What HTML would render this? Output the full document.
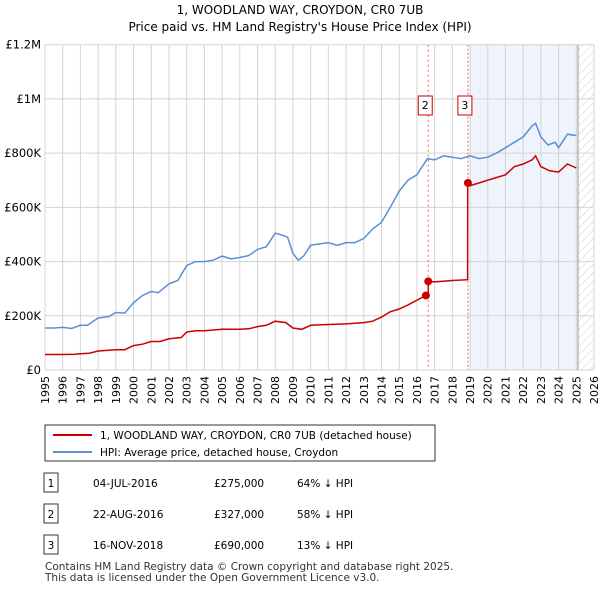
<!DOCTYPE html>
<html><head><meta charset="utf-8"><style>
body{margin:0;background:#fff;font-family:"Liberation Sans","DejaVu Sans",sans-serif;}
svg text{font-family:"DejaVu Sans","Liberation Sans",sans-serif;}
</style></head><body>
<svg id="c" width="600" height="590" xmlns="http://www.w3.org/2000/svg">
<defs><pattern id="hatch" width="6" height="6" patternUnits="userSpaceOnUse" patternTransform="rotate(45)"><line x1="0" y1="0" x2="0" y2="6" stroke="#ccc" stroke-width="1"/></pattern></defs>
<text x="300" y="14" text-anchor="middle" font-size="12">1, WOODLAND WAY, CROYDON, CR0 7UB</text>
<text x="300" y="31" text-anchor="middle" font-size="12">Price paid vs. HM Land Registry's House Price Index (HPI)</text>
<g id="plot"></g>
<g>
<rect x="45" y="425" width="390" height="36" fill="#fff" stroke="#333" stroke-width="1"/>
<line x1="53" y1="435" x2="92" y2="435" stroke="#cc0000" stroke-width="2"/>
<text x="100" y="439" font-size="10.5">1, WOODLAND WAY, CROYDON, CR0 7UB (detached house)</text>
<line x1="53" y1="452" x2="92" y2="452" stroke="#5b8fd4" stroke-width="2"/>
<text x="100" y="456" font-size="10.5">HPI: Average price, detached house, Croydon</text>
</g>
<g id="tbl" font-size="10.5"></g>
<text x="45" y="570" font-size="10.5" fill="#333">Contains HM Land Registry data © Crown copyright and database right 2025.</text>
<text x="45" y="581" font-size="10.5" fill="#333">This data is licensed under the Open Government Licence v3.0.</text>
</svg>
<script>
const hpiYears=[1995,1995.5,1996,1996.5,1997,1997.4,1998,1998.6,1999,1999.5,2000,2000.5,2001,2001.4,2002,2002.5,2003,2003.5,2004,2004.5,2005,2005.5,2006,2006.5,2007,2007.5,2008,2008.5,2008.7,2009,2009.3,2009.6,2010,2010.5,2011,2011.5,2012,2012.5,2013,2013.5,2014,2014.5,2015,2015.5,2016,2016.6,2017,2017.5,2018,2018.5,2019,2019.5,2020,2020.5,2021,2021.5,2022,2022.5,2022.7,2023,2023.4,2023.8,2024,2024.5,2025];
const hpiValues=[155,155,157,153,165,165,192,197,212,210,248,275,290,285,318,330,385,400,400,405,420,410,415,422,445,455,505,495,490,430,405,420,460,465,470,460,470,470,485,520,545,600,660,700,720,780,775,790,785,780,790,780,785,800,820,840,860,900,910,860,830,840,820,870,865];
const ppYears=[1995,1996,1996.7,1997,1997.5,1998,1999,1999.5,2000,2000.5,2001,2001.5,2002,2002.7,2003,2003.5,2004,2005,2006,2006.5,2007,2007.5,2008,2008.6,2009,2009.5,2010,2011,2012,2013,2013.5,2014,2014.5,2015,2015.5,2016.5,2016.64,2016.65,2017,2018,2018.86,2018.87,2019,2019.5,2020,2020.5,2021,2021.5,2022,2022.5,2022.7,2023,2023.5,2024,2024.5,2025];
const ppValues=[57,57,58,60,62,70,75,75,90,95,105,105,115,120,140,145,145,150,150,152,160,165,180,175,155,150,165,168,170,175,180,195,215,225,240,275,275,327,325,330,333,690,680,690,700,710,720,750,760,775,790,750,735,730,760,745];
const saleYears=[2016.51,2016.64,2018.88];
const saleValues=[275,327,690];
const yTicks=[0,200,400,600,800,1000,1200];
const yLabels=["£0","£200K","£400K","£600K","£800K","£1M","£1.2M"];
const xTicks=[1995,1996,1997,1998,1999,2000,2001,2002,2003,2004,2005,2006,2007,2008,2009,2010,2011,2012,2013,2014,2015,2016,2017,2018,2019,2020,2021,2022,2023,2024,2025,2026];
const tblNums=["1","2","3"];
const tblDates=["04-JUL-2016","22-AUG-2016","16-NOV-2018"];
const tblPrices=["£275,000","£327,000","£690,000"];
const tblHpi=["64% ↓ HPI","58% ↓ HPI","13% ↓ HPI"];
const X0=45,X1=594,Y0=370,Y1=44.7;
const xs=y=>X0+(y-1995)/(2026-1995)*(X1-X0);
const ys=v=>Y0-v/1200*(Y0-Y1);
const NS="http://www.w3.org/2000/svg";
const plot=document.getElementById('plot');
function mk(t,a,p){const e=document.createElementNS(NS,t);for(const k in a)e.setAttribute(k,a[k]);(p||plot).appendChild(e);return e;}
let e;
e=mk('rect',{x:xs(2019),y:Y1,width:xs(2025.1)-xs(2019),height:Y0-Y1,fill:'#eef3fc'});


e=mk('rect',{x:xs(2025.1),y:Y1,width:X1-xs(2025.1),height:Y0-Y1,fill:'url(#hatch)'});


xTicks.forEach(t=>{e=mk('line',{x1:xs(t),x2:xs(t),y1:Y1,y2:Y0,stroke:'#d4d4d4'});


e=mk('text',{x:0,y:0,'font-size':11,'text-anchor':'end',transform:`translate(${xs(t)+4},${Y0+6}) rotate(-90)`});e.textContent=t;

});
yTicks.forEach((t,i)=>{e=mk('line',{x1:X0,x2:X1,y1:ys(t),y2:ys(t),stroke:'#d4d4d4'});


e=mk('text',{x:X0-4,y:ys(t)+4,'font-size':11.5,'text-anchor':'end'});e.textContent=yLabels[i];

});
e=mk('line',{x1:xs(2025.1),x2:xs(2025.1),y1:Y1,y2:Y0,stroke:'#999'});


[[saleYears[1],'2','dotted'],[saleYears[2],'3','dashed']].forEach(([yr,lab,st])=>{
e=mk('line',{x1:xs(yr),x2:xs(yr),y1:Y1,y2:Y0,stroke:'#ee6666','stroke-dasharray':st=='dotted'?'2,3':'2,2'});


e=mk('rect',{x:xs(yr)-10,y:96,width:14,height:19,fill:'#fff',stroke:'#cc0000'});


e=mk('text',{x:+e.getAttribute('x')+7,y:109,'font-size':11,'text-anchor':'middle'});e.textContent=lab;

});
e=mk('path',{d:hpiYears.map((y,i)=>(i?'L':'M')+xs(y).toFixed(1)+','+ys(hpiValues[i]).toFixed(1)).join(''),fill:'none',stroke:'#5b8fd4','stroke-width':1.5});


e=mk('path',{d:ppYears.map((y,i)=>(i?'L':'M')+xs(y).toFixed(1)+','+ys(ppValues[i]).toFixed(1)).join(''),fill:'none',stroke:'#cc0000','stroke-width':1.5});


saleYears.forEach((y,i)=>{e=mk('circle',{cx:xs(y),cy:ys(saleValues[i]),r:4,fill:'#cc0000'});

});
const tbl=document.getElementById('tbl');
tblNums.forEach((n,i)=>{const yy=483+i*31;
e=mk('rect',{x:44,y:yy-10,width:14,height:19,fill:'#fff',stroke:'#333'},tbl);


e=mk('text',{x:51,y:yy+4,'text-anchor':'middle'},tbl);e.textContent=n;


e=mk('text',{x:93,y:yy+4},tbl);e.textContent=tblDates[i];


e=mk('text',{x:214,y:yy+4},tbl);e.textContent=tblPrices[i];


e=mk('text',{x:297,y:yy+4},tbl);e.textContent=tblHpi[i];

});
</script>
</body></html>
